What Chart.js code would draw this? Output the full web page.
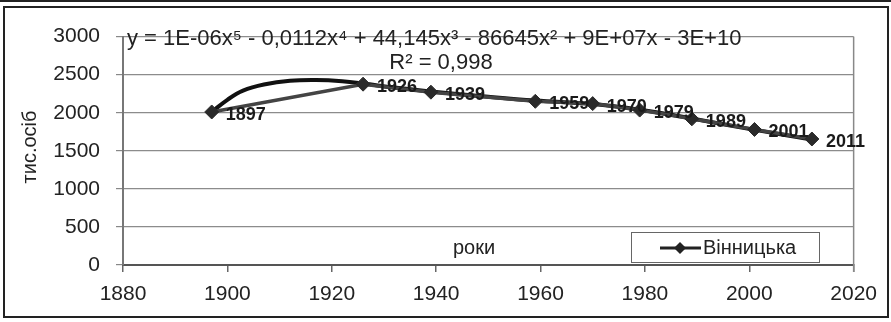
<!DOCTYPE html>
<html>
<head>
<meta charset="utf-8">
<script src="https://cdn.jsdelivr.net/npm/chart.js@4.4.1/dist/chart.umd.min.js"></script>
<style>
  html, body { margin: 0; padding: 0; background: #fff; }
  body { width: 891px; height: 322px; position: relative; overflow: hidden; }
  #topline { position: absolute; left: 0; top: 0; width: 891px; height: 2px; background: #222; }
  #frame { position: absolute; left: 3px; top: 6px; width: 882px; height: 308px; border: 2px solid #222; }
  canvas { display: block; }
</style>
</head>
<body>
<div id="topline"></div>
<div id="frame"><canvas id="myChart" width="882" height="308"></canvas></div>
<script>
// Values
const years = [1897, 1926, 1939, 1959, 1970, 1979, 1989, 2001, 2012];
const yearLabels = ['1897', '1926', '1939', '1959', '1970', '1979', '1989', '2001', '2011'];
const population = [2010, 2375, 2270, 2150, 2120, 2035, 1920, 1780, 1655];

// 5th order polynomial trend line
const trendYears = [1897, 1900, 1903, 1907, 1912, 1917, 1922, 1926, 1932, 1939, 1950, 1959, 1970, 1979, 1989, 2001, 2012];
const trendValues = [2010, 2170, 2290, 2370, 2420, 2430, 2415, 2385, 2330, 2280, 2210, 2160, 2115, 2040, 1925, 1775, 1650];

const seriesName = 'Вінницька';
const equationText = 'y = 1E-06x⁵ - 0,0112x⁴ + 44,145x³ - 86645x² + 9E+07x - 3E+10';
const r2Text = 'R² = 0,998';
const xTitle = 'роки';
const yTitle = 'тис.осіб';

const FONT = '"Liberation Sans", Arial, sans-serif';

const extras = {
    id: 'extras',
    afterDatasetsDraw(chart) {
        const ctx = chart.ctx;
        const area = chart.chartArea;
        ctx.save();

        // right border of the plot
        ctx.strokeStyle = '#888';
        ctx.lineWidth = 1.5;
        ctx.beginPath();
        ctx.moveTo(area.right, area.top);
        ctx.lineTo(area.right, area.bottom + 7);
        ctx.stroke();

        // point labels
        const meta = chart.getDatasetMeta(0);
        ctx.font = 'bold 18px ' + FONT;
        ctx.fillStyle = '#1a1a1a';
        ctx.textBaseline = 'middle';
        ctx.textAlign = 'left';
        meta.data.forEach((pt, i) => {
            ctx.fillText(yearLabels[i], pt.x + 14, pt.y + 3);
        });

        // trend equation
        ctx.font = '22px ' + FONT;
        ctx.fillStyle = '#222';
        ctx.fillText(equationText, 122, 31);
        ctx.textAlign = 'center';
        ctx.fillText(r2Text, 436, 55);

        // axis titles
        ctx.font = '20px ' + FONT;
        ctx.fillText(xTitle, 469, 240);
        ctx.save();
        ctx.translate(25, 139);
        ctx.rotate(-Math.PI / 2);
        ctx.fillText(yTitle, 0, 0);
        ctx.restore();

        // legend box
        const lx = 626, ly = 224, lw = 188, lh = 30;
        ctx.fillStyle = '#fff';
        ctx.fillRect(lx, ly, lw, lh);
        ctx.strokeStyle = '#666';
        ctx.lineWidth = 1;
        ctx.strokeRect(lx + 0.5, ly + 0.5, lw, lh);
        const cy = ly + lh / 2 + 1;
        ctx.strokeStyle = '#222';
        ctx.lineWidth = 3;
        ctx.beginPath();
        ctx.moveTo(lx + 29, cy);
        ctx.lineTo(lx + 70, cy);
        ctx.stroke();
        ctx.fillStyle = '#222';
        ctx.beginPath();
        ctx.moveTo(lx + 49, cy - 6);
        ctx.lineTo(lx + 55, cy);
        ctx.lineTo(lx + 49, cy + 6);
        ctx.lineTo(lx + 43, cy);
        ctx.closePath();
        ctx.fill();
        ctx.font = '20px ' + FONT;
        ctx.textAlign = 'left';
        ctx.fillText(seriesName, lx + 72, cy);

        ctx.restore();
    }
};

const ctx = document.getElementById('myChart').getContext('2d');
const myChart = new Chart(ctx, {
    type: 'scatter',
    data: {
        datasets: [{
            label: seriesName,
            data: years.map((x, i) => ({ x: x, y: population[i] })),
            showLine: true,
            borderColor: '#444',
            borderWidth: 3.5,
            pointStyle: 'rectRot',
            pointRadius: 7,
            pointBackgroundColor: '#2a2a2a',
            pointBorderColor: '#2a2a2a',
            pointBorderWidth: 1
        }, {
            label: 'trend',
            data: trendYears.map((x, i) => ({ x: x, y: trendValues[i] })),
            showLine: true,
            borderColor: '#111',
            borderWidth: 4,
            pointRadius: 0,
            tension: 0.4
        }]
    },
    options: {
        responsive: false,
        animation: false,
        events: [],
        layout: { padding: { top: 21, right: 33, left: 0, bottom: 0 } },
        plugins: {
            legend: { display: false },
            tooltip: { enabled: false }
        },
        scales: {
            x: {
                type: 'linear',
                min: 1880,
                max: 2020,
                afterFit(scale) { scale.height = 51; },
                ticks: {
                    stepSize: 20,
                    padding: 10,
                    color: '#222',
                    font: { family: FONT, size: 21 },
                    callback: v => String(v)
                },
                grid: {
                    drawOnChartArea: false,
                    tickLength: 7,
                    tickColor: '#666',
                    lineWidth: 1.5
                },
                border: { color: '#555', width: 2 }
            },
            y: {
                min: 0,
                max: 3000,
                afterFit(scale) { scale.width = 118; },
                ticks: {
                    stepSize: 500,
                    padding: 16,
                    color: '#222',
                    font: { family: FONT, size: 21 },
                    callback: v => String(v)
                },
                grid: {
                    color: '#8c8c8c',
                    lineWidth: 1.2,
                    tickLength: 7,
                    tickColor: '#888'
                },
                border: { color: '#777', width: 2 }
            }
        }
    },
    plugins: [extras]
});
</script>
</body>
</html>
